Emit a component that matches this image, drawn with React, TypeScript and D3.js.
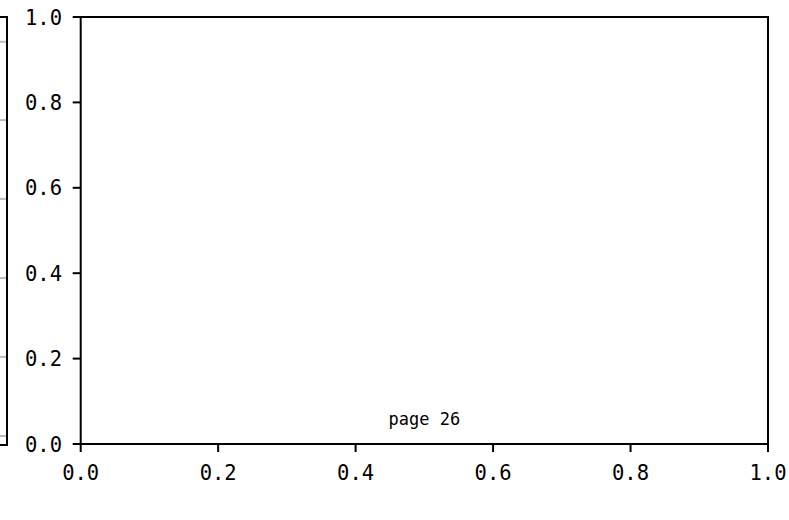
import React from "react";
import * as d3 from "d3";

const xTicks = [0, 0.2, 0.4, 0.6, 0.8, 1.0];
const yTicks = [0, 0.2, 0.4, 0.6, 0.8, 1.0];
const leftPanelLines = [0.942, 0.759, 0.575, 0.39, 0.206, 0.021];
const pageLabel = "page 26";

const W = 789;
const H = 520;
const FONT = "'DejaVu Sans Mono', monospace";

export default function App() {
  const left = 80.7, right = 768, top = 17, bottom = 444;
  const x = d3.scaleLinear().domain([0, 1]).range([left, right]);
  const y = d3.scaleLinear().domain([0, 1]).range([bottom, top]);
  const yl = d3.scaleLinear().domain([0, 1]).range([445, 17]);
  const fmt = d3.format(".1f");
  const tickLen = 8;
  return (
    <svg width={W} height={H} style={{ position: "absolute", left: 0, top: 0, background: "#fff" }}>
      <rect x={0} y={0} width={W} height={H} fill="#fff" />
      {/* left partial panel */}
      {leftPanelLines.map((v, i) => (
        <line key={i} x1={-10} x2={6} y1={yl(v)} y2={yl(v)} stroke="#bbbbbb" strokeWidth={2} />
      ))}
      <path d={`M-10,17 H7 V445 H-10`} fill="none" stroke="#000" strokeWidth={2} />
      {/* main axes frame */}
      <rect x={left} y={top} width={right - left} height={bottom - top} fill="none" stroke="#000" strokeWidth={2} />
      {yTicks.map((t) => (
        <g key={"y" + t}>
          <line x1={left - tickLen} x2={left} y1={y(t)} y2={y(t)} stroke="#000" strokeWidth={2} />
          <text x={62} y={y(t) + 7.5} textAnchor="end"
            fontFamily={FONT} fontSize={20.5} fill="#000">{fmt(t)}</text>
        </g>
      ))}
      {xTicks.map((t) => (
        <g key={"x" + t}>
          <line x1={x(t)} x2={x(t)} y1={bottom} y2={bottom + tickLen} stroke="#000" strokeWidth={2} />
          <text x={x(t)} y={480} textAnchor="middle"
            fontFamily={FONT} fontSize={20.5} fill="#000">{fmt(t)}</text>
        </g>
      ))}
      <text x={x(0.5)} y={425} textAnchor="middle" fontFamily={FONT} fontSize={17} fill="#000">{pageLabel}</text>
    </svg>
  );
}
